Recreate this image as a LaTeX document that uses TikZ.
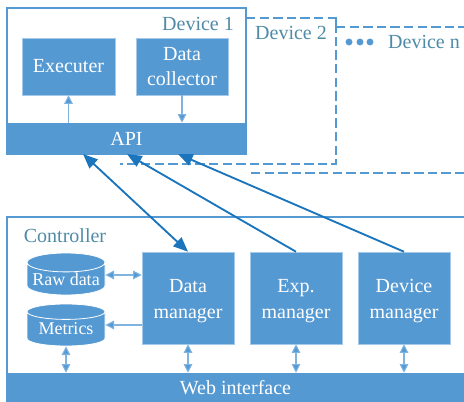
\documentclass[tikz,border=0pt]{standalone}
\usepackage{fontspec}
\setmainfont{Liberation Serif}
\usetikzlibrary{arrows.meta,shapes.geometric}
\definecolor{boxblue}{HTML}{5599D3}
\definecolor{thinblue}{HTML}{7FB3E0}
\definecolor{darkblue}{HTML}{1B75BC}
\definecolor{titleblue}{HTML}{4F8BA6}
\begin{document}
\begin{tikzpicture}[x=0.75pt,y=-0.75pt]
        \tikzstyle{module} = [fill=boxblue,draw=thinblue!70,line width=0.4pt,text=white,align=center,font=\fontsize{15}{19}\selectfont,inner sep=0pt]
        \tikzstyle{manager} = [module,minimum width=69pt,minimum height=69pt,text height=33.5pt]
        \tikzstyle{bar} = [fill=boxblue,text=white,inner sep=0pt,font=\fontsize{15}{18}\selectfont]
        \tikzstyle{store} = [cylinder,anchor=shape center,shape border rotate=90,aspect=0.28,fill=boxblue,draw=white,line width=0.6pt,text=white,inner sep=0pt,minimum width=58.5pt,minimum height=31.5pt,font=\fontsize{13.5}{16}\selectfont]
        \tikzstyle{title} = [text=titleblue,inner sep=0pt,font=\fontsize{15}{18}\selectfont]
        \tikzstyle{frame} = [draw=boxblue,line width=0.9pt]
        \tikzstyle{other} = [draw=boxblue,line width=0.8pt,dash pattern=on 7pt off 3.2pt]
        \tikzstyle{link} = [draw=thinblue,line width=0.8pt,{Triangle[length=6.5pt,width=6.5pt,fill=boxblue]}-{Triangle[length=6.5pt,width=6.5pt,fill=boxblue]}]
        \tikzstyle{uplink} = [draw=thinblue,line width=0.8pt,-{Triangle[length=6.5pt,width=6.5pt,fill=boxblue]}]
        \tikzstyle{remote} = [draw=darkblue,line width=1.4pt,-{Triangle[length=11pt,width=9pt]}]

        \useasboundingbox (0,0) rectangle (464,402);

        % other devices behind
        \draw[other] (246,18) -- (336,18) -- (336,164) -- (120,164);
        \draw[boxblue,line width=0.8pt] (336,18) -- (336,27);
        \draw[other] (336,27) -- (464,27);
        \draw[other] (251,173) -- (464,173);

        % device 1
        \draw[frame,fill=white] (7,8) rectangle (246,154);
        \node[bar,minimum width=179.25pt,minimum height=23.25pt] (api) at (126.5,138.5){API};
        \node[module,minimum width=69.75pt,minimum height=42.75pt] (executer) at (68.5,66.5){Executer};
        \node[module,minimum width=69pt,minimum height=42.75pt] (collector) at (182,66.5){Data\\collector};
        \node[title] (device1) at (198,24){Device 1};
        \node[title] (device2) at (291,33){Device 2};
        \node[title] (devicen) at (424,42){Device n};
        \foreach \x in {349,360,370}
            \fill[boxblue] (\x,42) circle (2.6pt);

        % controller
        \draw[frame] (464,217) -- (7,217) -- (7,402);
        \node[bar,minimum width=342.75pt,minimum height=21.75pt] (web) at (235.5,387.5){Web interface};
        \node[title] (controller) at (65,236){Controller};
        \node[manager] (data) at (188,298){Data\\manager};
        \node[manager] (exp) at (296,298){Exp.\\manager};
        \node[manager] (device) at (404,298){Device\\manager};
        \node[store] (raw) at (66,274){Raw data};
        \node[store] (metrics) at (66,325){Metrics};

        % inside device 1
        \draw[uplink] (executer |- api.north) -- (executer.south);
        \draw[uplink] (collector.south) -- (collector |- api.north);

        % inside controller
        \draw[link] (raw.east |- 0,275) -- (data.west |- 0,275);
        \draw[uplink] (data.west |- 0,325) -- (metrics.east |- 0,325);
        \draw[link] (metrics.south) -- (metrics |- web.north);
        \draw[link] (data.south) -- (data |- web.north);
        \draw[link] (exp.south) -- (exp |- web.north);
        \draw[link] (device.south) -- (device |- web.north);

        % controller to device 1
        \coordinate (a1) at (83,154);
        \coordinate (a2) at (127,154);
        \coordinate (a3) at (178,154);
        \draw[remote,{Triangle[length=11pt,width=9pt]}-{Triangle[length=11pt,width=9pt]}] (a1) -- (data.north);
        \draw[remote] (exp.north) -- (a2);
        \draw[remote] (device.north) -- (a3);
\end{tikzpicture}
\end{document}
